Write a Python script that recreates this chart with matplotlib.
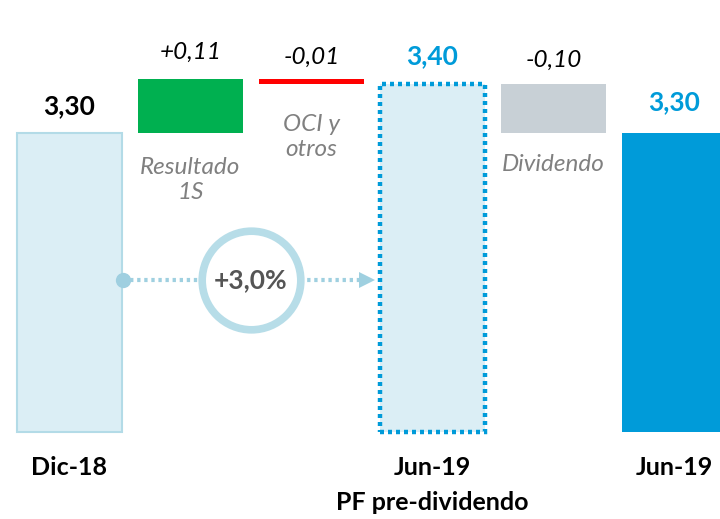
import matplotlib
matplotlib.use("Agg")
import matplotlib.pyplot as plt

plt.rcParams['font.family'] = ['Lato', 'DejaVu Sans']

# Waterfall data (bn)
start_label = "Dic-18"
start_value = 3.30
steps = ["Resultado\n1S", "OCI y\notros"]
step_values = [0.11, -0.01]
pf_label = "Jun-19\nPF pre-dividendo"
pf_value = 3.40
dividend_label = "Dividendo"
dividend_value = -0.10
end_label = "Jun-19"
end_value = 3.30
growth_text = "+3,0%"

baseline = 2.69  # broken axis: bars start here


def fmt(v, signed=False):
    s = f"{abs(v):.2f}".replace(".", ",")
    if signed:
        s = ("+" if v >= 0 else "-") + s
    return s


fig = plt.figure(figsize=(7.2, 5.19), dpi=100)
ax = fig.add_axes([0, 0, 1, 1])
ax.set_xlim(-0.574, 5.376)
ax.set_ylim(2.5122, 3.5714)
ax.axis("off")

w = 0.87
light_fill = "#dbeef5"
light_edge = "#b3dbe7"
blue = "#009bd9"
green = "#00b050"
red = "#ff0000"
grey = "#c8d0d6"
label_grey = "#808080"

# Starting total
ax.bar(0, start_value - baseline, bottom=baseline, width=w,
       color=light_fill, edgecolor=light_edge, linewidth=1.5)

# Floating steps
running = start_value
step_colors = [green, red]
step_tops = []
step_bottoms = []
for i, (v, c) in enumerate(zip(step_values, step_colors)):
    lo = min(running, running + v)
    hi = max(running, running + v)
    ax.bar(1 + i, hi - lo, bottom=lo, width=w, color=c, linewidth=0)
    step_tops.append(hi)
    step_bottoms.append(lo)
    running += v

# Pro-forma total (dotted outline)
ax.bar(3, pf_value - baseline, bottom=baseline, width=w,
       color=light_fill, edgecolor=blue, linewidth=3.2,
       linestyle=(0, (0.9, 0.9)))

# Dividend step
div_lo = pf_value + dividend_value
ax.bar(4, -dividend_value, bottom=div_lo, width=w, color=grey, linewidth=0)

# Final total
ax.bar(5, end_value - baseline, bottom=baseline, width=w, color=blue, linewidth=0)

# Value labels
def value_label(x, top, text, off, **kw):
    ax.annotate(text, (x, top), xytext=(0, off), textcoords="offset pixels",
                ha="center", va="center", **kw)

value_label(0, start_value, fmt(start_value), 27, fontsize=19,
            fontweight="bold", color="black")
value_label(1, step_tops[0], fmt(step_values[0], True), 27, fontsize=17.5,
            fontstyle="italic", color="black")
value_label(2, step_tops[1], fmt(step_values[1], True), 22, fontsize=17.5,
            fontstyle="italic", color="black")
value_label(3, pf_value, fmt(pf_value), 28, fontsize=19,
            fontweight="bold", color=blue)
value_label(4, pf_value, fmt(dividend_value, True), 24, fontsize=17.5,
            fontstyle="italic", color="black")
value_label(5, end_value, fmt(end_value), 31, fontsize=19,
            fontweight="bold", color=blue)

# Step descriptions below the floating bars
desc_kw = dict(textcoords="offset pixels", ha="center", va="center",
               fontsize=17.5, fontstyle="italic", color=label_grey,
               linespacing=1.2)
ax.annotate(steps[0], (1, step_bottoms[0]), xytext=(0, -47), **desc_kw)
ax.annotate(steps[1], (2, step_bottoms[1]), xytext=(0, -53), **desc_kw)
ax.annotate(dividend_label, (4, div_lo), xytext=(0, -32), **desc_kw)

# Category labels under the totals, one line at a time
for x, lbl in [(0, start_label), (3, pf_label), (5, end_label)]:
    for k, line in enumerate(lbl.split("\n")):
        ax.annotate(line, (x, baseline), xytext=(0, -36 - 35 * k),
                    textcoords="offset pixels", ha="center", va="center",
                    fontsize=18, fontweight="bold", color="black")

# Growth connector between the two totals
mid_y = 3.0
ax.plot([0.44, 2.44], [mid_y, mid_y], color="#9fd0e0", lw=3,
        linestyle=(0, (0.8, 0.9)), solid_capstyle="butt", zorder=2)
ax.plot([0.44], [mid_y], marker="o", markersize=11, color="#9fcfe0",
        markeredgewidth=0, zorder=3)
ax.plot([2.455], [mid_y], marker=">", markersize=12, color="#9fd0e0",
        markeredgewidth=0, zorder=3)
ax.plot([1.5], [mid_y], marker="o", markersize=71, markerfacecolor="white",
        markeredgecolor="#b7dde8", markeredgewidth=5.5, zorder=4)
ax.text(1.5, mid_y, growth_text, ha="center", va="center", fontsize=19,
        fontweight="bold", color="#555555", zorder=5)

fig.savefig("out.png", dpi=100)
